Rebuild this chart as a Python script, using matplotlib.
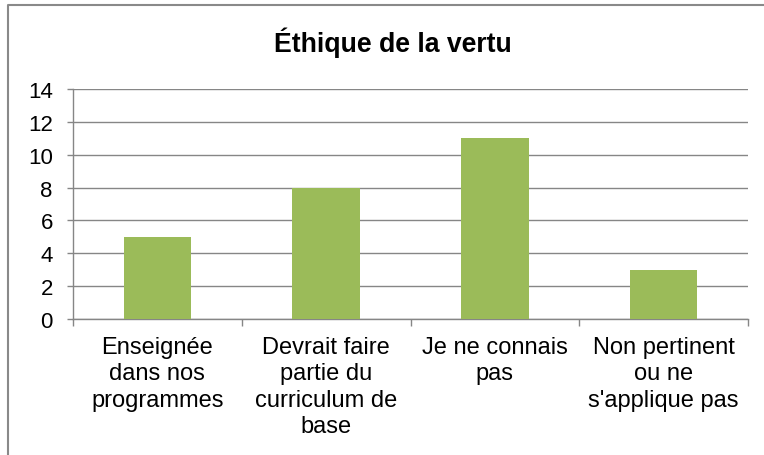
import numpy as np
import matplotlib.pyplot as plt
from matplotlib.lines import Line2D

plt.rcParams['font.family'] = ['Liberation Sans', 'DejaVu Sans']

categories = ["Enseignée\ndans nos\nprogrammes",
              "Devrait faire\npartie du\ncurriculum de\nbase",
              "Je ne connais\npas",
              "Non pertinent\nou ne\ns'applique pas"]
values = [5, 8, 11, 3]
y_ticks = [0, 2, 4, 6, 8, 10, 12, 14]

grey = '#868686'
bar_color = '#9BBB59'

fig = plt.figure(figsize=(7.64, 4.56), dpi=100)
ax = fig.add_axes([73/764, 1 - 320/456, (748 - 73)/764, 230/456])

x = np.arange(len(values))
ax.bar(x, values, width=0.4, color=bar_color, zorder=3)

ax.set_xlim(-0.5, len(values) - 0.5)
ax.set_ylim(0, 14)
ax.set_yticks(y_ticks)
ax.yaxis.grid(True, color=grey, linewidth=1)
ax.set_axisbelow(True)

# category labels centred, ticks on the category boundaries
ax.set_xticks(x)
ax.set_xticklabels(categories, fontsize=17, linespacing=1.27, va='top')
ax.tick_params(axis='x', length=0, pad=12)
ax.set_xticks(np.arange(-0.5, len(values)), minor=True)
ax.tick_params(axis='x', which='minor', length=5, color=grey, width=1)
ax.tick_params(axis='y', length=4.5, color=grey, width=1, labelsize=16, pad=10)

for s in ['top', 'right']:
    ax.spines[s].set_visible(False)
for s in ['left', 'bottom']:
    ax.spines[s].set_color(grey)
    ax.spines[s].set_linewidth(1)

fig.text(393/764, 1 - 43/456, "Éthique de la vertu", ha='center', va='center',
         fontsize=19.2, fontweight='bold')

# outer chart frame (cut at right and bottom)
fig.add_artist(Line2D([8/764, 8/764, 1.0], [0.0, 1 - 6/456, 1 - 6/456],
                      transform=fig.transFigure, color='#898989', linewidth=1.5))

fig.savefig('out.png', dpi=100)
